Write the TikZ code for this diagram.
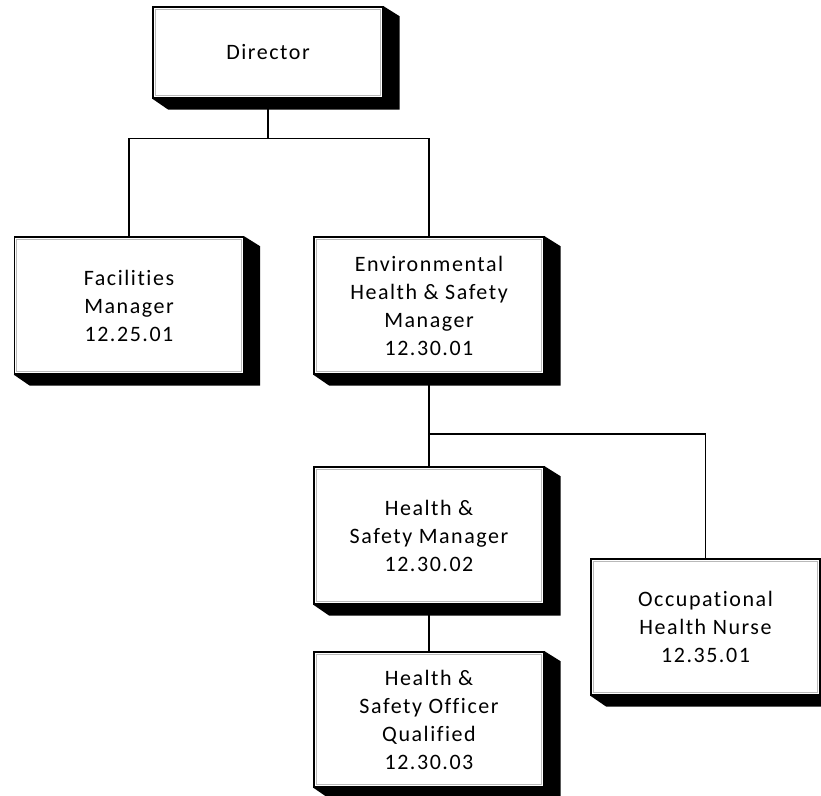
\documentclass[tikz,border=0pt]{standalone}
\usepackage{fontspec}
\setmainfont{Carlito}[LetterSpace=7, Ligatures=NoCommon]
\usepackage{tikz}
\usetikzlibrary{positioning}
\tikzstyle{line} = [draw, line width=1.4pt]
\tikzstyle{post} = [rectangle, draw, line width=1.4pt, fill=white, minimum width=229pt, minimum height=137pt, align=center, font=\fontsize{22}{28}\selectfont,
  path picture={\draw[gray!55, line width=0.8pt] ([shift={(2.2pt,-2.2pt)}]path picture bounding box.north west) rectangle ([shift={(-2.2pt,2.2pt)}]path picture bounding box.south east);}]
\tikzstyle{extrude} = [fill=black]

\begin{document}
\begin{tikzpicture}[x=1pt, y=-1pt]
\useasboundingbox (0,0) rectangle (821,795);

\node [post, minimum width=230pt, minimum height=91pt] (dir) at (268,52.5) {Director};

\node [post] (fac) at (129,305.5) {Facilities\\Manager\\12.25.01};
\node [post, minimum width=230pt] (ehs) at (429,305.5) {Environmental\\Health \& Safety\\Manager\\12.30.01};

\node [post, minimum width=230pt] (hsm) at (429,535.5) {Health \&\\Safety Manager\\12.30.02};
\node [post, below of=hsm, node distance=184pt, minimum width=230pt, minimum height=135pt] (hso) {Health \&\\Safety Officer\\Qualified\\12.30.03};
\node [post, minimum height=136pt] (ohn) at (705.5,627) {Occupational\\Health Nurse\\12.35.01};

% 3d edges of the boxes
\foreach \b in {dir,fac,ehs,hsm,hso,ohn}
  \path [extrude] (\b.north east) -- ++(16,10) -- ([shift={(16,11)}]\b.south east)
    -- ([shift={(16,11)}]\b.south west) -- (\b.south west) -- (\b.south east) -- cycle;

% connectors
\coordinate [below=40pt of dir.south] (j1);
\coordinate (j2) at (ehs.south |- 0,434);
\path [line] (dir.south) to (j1);
\path [line] (fac.north) |- (j1) -| (ehs.north);
\path [line] (ehs.south) to (j2);
\path [line] (j2) to (hsm.north);
\path [line] (j2) -| (ohn.north);
\path [line] (hsm.south) to (hso.north);

\end{tikzpicture}
\end{document}
